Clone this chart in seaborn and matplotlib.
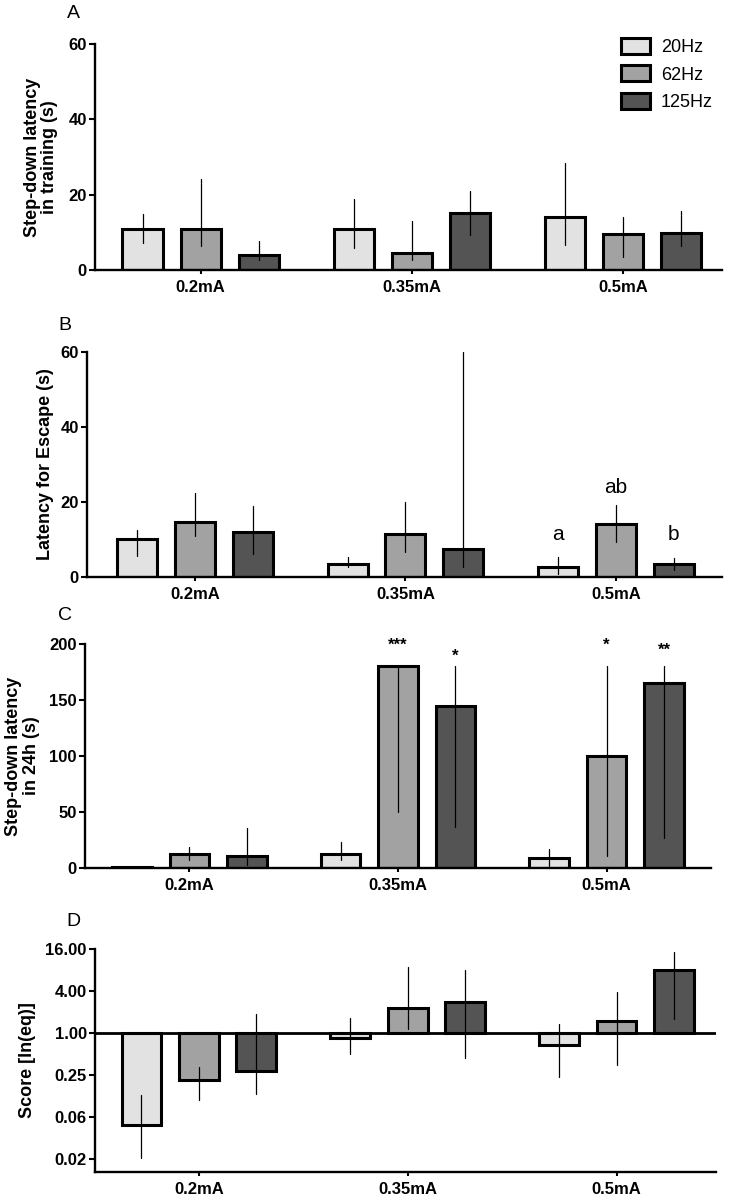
import numpy as np
import pandas as pd
import matplotlib
matplotlib.use("Agg")
import matplotlib.pyplot as plt
from matplotlib.patches import Patch
import seaborn as sns

# ── data ──────────────────────────────────────────────────────────────────────
doses = ["0.2mA", "0.35mA", "0.5mA"]
freqs = ["20Hz", "62Hz", "125Hz"]
colors = ["#e2e2e2", "#a2a2a2", "#545454"]

# rows = 20Hz, 62Hz, 125Hz ; columns = doses
a_mid = [[10.8, 10.8, 14.0], [10.8, 4.4, 9.5], [3.9, 15.1, 9.9]]
a_lo = [[7.1, 5.8, 6.7], [6.4, 2.7, 3.4], [2.7, 9.3, 6.4]]
a_hi = [[15.0, 18.9, 28.4], [24.2, 12.9, 14.2], [7.8, 21.0, 15.7]]

b_mid = [[10.1, 3.5, 2.7], [14.6, 11.5, 14.1], [12.0, 7.5, 3.5]]
b_lo = [[5.7, 2.8, 0.9], [11.0, 6.6, 9.3], [6.2, 2.8, 1.8]]
b_hi = [[12.6, 5.3, 5.3], [22.3, 20.0, 19.2], [19.0, 60.0, 5.0]]
b_marks = [("a", 0, 2, 9.9), ("ab", 1, 2, 22.3), ("b", 2, 2, 9.9)]

c_mid = [[1.2, 12.6, 9.3], [12.6, 180.0, 100.0], [11.1, 145.0, 165.0]]
c_lo = [[1.2, 6.9, 1.5], [7.5, 50.4, 10.8], [2.4, 36.9, 27.0]]
c_hi = [[1.2, 22.8, 17.4], [18.9, 180.0, 180.0], [35.4, 180.0, 180.0]]
c_marks = [("***", 1, 1, 195), ("*", 2, 1, 185), ("*", 1, 2, 195), ("**", 2, 2, 190)]

d_mid = [[0.047, 0.85, 0.67], [0.21, 2.31, 1.49], [0.285, 2.78, 7.9]]
d_lo = [[0.016, 0.49, 0.23], [0.109, 1.15, 0.34], [0.132, 0.43, 1.6]]
d_hi = [[0.13, 1.66, 1.32], [0.325, 8.8, 3.83], [1.89, 7.9, 14.5]]
d_ticks = [-3, -2, -1, 0, 1, 2]   # powers of 4

W, H = 731, 1199


def long_table(mid, lo, hi, fn=None):
    rows = []
    for f, m_row, l_row, h_row in zip(freqs, mid, lo, hi):
        for d, m, l, h in zip(doses, m_row, l_row, h_row):
            for v in (l, m, h):
                rows.append({"dose": d, "freq": f,
                             "value": fn(v) if fn else v})
    return pd.DataFrame(rows)


def px_axes(fig, left, right, top, bottom):
    return fig.add_axes([left / W, 1 - bottom / H, (right - left) / W, (bottom - top) / H])


def draw(ax, df, ylabel, label_x, xlim):
    sns.barplot(data=df, x="dose", y="value", hue="freq", order=doses,
                hue_order=freqs, palette=colors, estimator="median",
                errorbar=lambda v: (v.min(), v.max()),
                width=0.825, gap=0.31, saturation=1,
                edgecolor="black", linewidth=2.2,
                err_kws={"color": "black", "linewidth": 0.9},
                legend=False, ax=ax)
    ax.set_xlabel("")
    ax.set_ylabel(ylabel, fontsize=13, fontweight="bold", va="center",
                  linespacing=1.05)
    ax.yaxis.set_label_coords(label_x, 0.5)
    ax.set_xlim(*xlim)
    sns.despine(ax=ax)
    for side in ("left", "bottom"):
        ax.spines[side].set_linewidth(1.7)
    ax.tick_params(axis="y", length=4, width=1.5, labelsize=12, pad=2)
    ax.tick_params(axis="x", length=3, width=1.5, labelsize=12, pad=4)
    for t in ax.get_xticklabels() + ax.get_yticklabels():
        t.set_fontweight("bold")


def annotate(ax, marks, size, weight):
    for txt, h, c, y in marks:
        p = ax.containers[h].patches[c]
        ax.text(p.get_x() + p.get_width() / 2, y, txt, ha="center",
                va="baseline", fontsize=size, fontweight=weight)


sns.set_theme(style="ticks")
plt.rcParams["font.family"] = ["Liberation Sans", "DejaVu Sans"]
for key in ("text.color", "axes.labelcolor", "xtick.color", "ytick.color",
            "axes.edgecolor"):
    plt.rcParams[key] = "black"

fig = plt.figure(figsize=(W / 100, H / 100), dpi=100)

# A
ax_a = px_axes(fig, 95, 722, 44, 270)
draw(ax_a, long_table(a_mid, a_lo, a_hi),
     "Step-down latency\nin training (s)", -0.086, (-0.5, 2.47))
ax_a.set_ylim(0, 60)
ax_a.set_yticks([0, 20, 40, 60])

# B
ax_b = px_axes(fig, 87, 722, 352, 577)
draw(ax_b, long_table(b_mid, b_lo, b_hi),
     "Latency for Escape (s)", -0.066, (-0.514, 2.505))
ax_b.set_ylim(0, 60)
ax_b.set_yticks([0, 20, 40, 60])
annotate(ax_b, b_marks, 15, "normal")

# C
ax_c = px_axes(fig, 85, 711, 644, 868)
draw(ax_c, long_table(c_mid, c_lo, c_hi),
     "Step-down latency\nin 24h (s)", -0.1, (-0.5, 2.5))
ax_c.set_ylim(0, 200)
ax_c.set_yticks([0, 50, 100, 150, 200])
annotate(ax_c, c_marks, 12, "bold")

# D  (log4 scale, bars hang from 1.00)
ax_d = px_axes(fig, 95, 716, 949, 1172)
draw(ax_d, long_table(d_mid, d_lo, d_hi, fn=lambda v: np.log(v) / np.log(4)),
     "Score [ln(eq)]", -0.108, (-0.497, 2.476))
ax_d.set_ylim(-3.32, 2)
ax_d.set_yticks(d_ticks)
ax_d.set_yticklabels([f"{4.0 ** k:.2f}" for k in d_ticks], fontweight="bold")
ax_d.axhline(0, color="black", linewidth=2, zorder=5)

for lbl, (x, y) in zip("ABCD", [(73, 13), (65, 325), (65, 615), (73, 922)]):
    fig.text(x / W, 1 - y / H, lbl, fontsize=14, ha="center", va="center")

handles = [Patch(facecolor=c, edgecolor="black", linewidth=2.2) for c in colors]
fig.legend(handles, freqs, loc="upper left", bbox_to_anchor=(612 / W, 1 - 29 / H),
           frameon=False, fontsize=13, borderpad=0, handlelength=1.6,
           handleheight=1.0, handletextpad=0.6, labelspacing=0.5)

fig.savefig("out.png", dpi=100)
